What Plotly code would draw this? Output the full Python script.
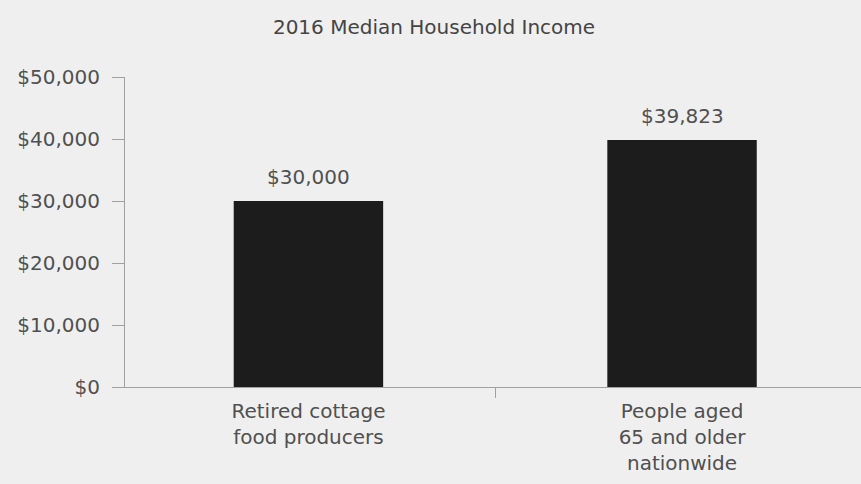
import plotly.graph_objects as go

# 2016 median household income comparison
categories = ["Retired cottage<br>food producers", "People aged<br>65 and older<br>nationwide"]
incomes = [30000, 39823]
value_labels = ["$30,000", "$39,823"]
y_ticks = [0, 10000, 20000, 30000, 40000, 50000]
y_tick_labels = ["$0", "$10,000", "$20,000", "$30,000", "$40,000", "$50,000"]

FONT = "DejaVu Sans"
TEXT = "#505050"
AXIS = "#a0a0a0"
BG = "#efefef"

fig = go.Figure(
    go.Bar(
        x=categories,
        y=incomes,
        width=0.40,
        marker=dict(color="#1c1c1c", line=dict(width=0)),
        hoverinfo="x+y",
    )
)

# value labels sitting above each bar
for cat, val, lab in zip(categories, incomes, value_labels):
    fig.add_annotation(
        x=cat,
        y=val,
        text=lab,
        showarrow=False,
        yanchor="bottom",
        yshift=10,
        font=dict(family=FONT, size=20, color=TEXT),
    )

fig.update_layout(
    width=861,
    height=484,
    margin=dict(l=125, r=0, t=77, b=97),
    paper_bgcolor=BG,
    plot_bgcolor=BG,
    showlegend=False,
    title=dict(
        text="2016 Median Household Income",
        x=434 / 861,
        xanchor="center",
        y=1 - 27 / 484,
        yanchor="middle",
        font=dict(family=FONT, size=20, color="#444444"),
    ),
    font=dict(family=FONT, color=TEXT),
)

fig.update_xaxes(
    type="category",
    range=[-0.491, 1.479],
    showline=True,
    linecolor=AXIS,
    linewidth=1,
    ticks="outside",
    tickson="boundaries",
    ticklen=10,
    tickcolor=AXIS,
    ticklabelstandoff=6,
    tickfont=dict(family=FONT, size=20, color=TEXT),
    showgrid=False,
    zeroline=False,
)

fig.update_yaxes(
    range=[0, 50000],
    tickvals=y_ticks,
    ticktext=y_tick_labels,
    showline=True,
    linecolor=AXIS,
    linewidth=1,
    ticks="outside",
    ticklen=12,
    tickcolor=AXIS,
    ticklabelstandoff=8,
    tickfont=dict(family=FONT, size=20, color=TEXT),
    showgrid=False,
    zeroline=False,
)

fig.write_html("out.html")
